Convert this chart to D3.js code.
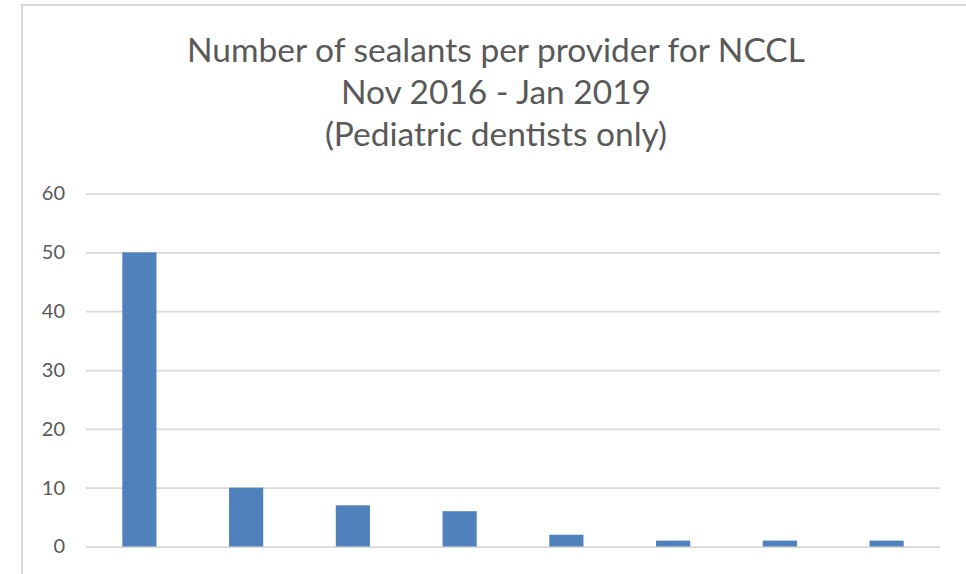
<!DOCTYPE html>
<html>
<head>
<meta charset="utf-8">
<script src="https://cdn.jsdelivr.net/npm/d3@7"></script>
<style>
  body { margin: 0; background: #fff; }
  svg { display: block; font-family: Lato, "Open Sans", sans-serif; }
</style>
</head>
<body>
<div id="chart"></div>
<script>
// values
const providers = ["Provider 1", "Provider 2", "Provider 3", "Provider 4",
  "Provider 5", "Provider 6", "Provider 7", "Provider 8"]
const sealants = [50, 10, 7, 6, 2, 1, 1, 1]
const yTicks = [0, 10, 20, 30, 40, 50, 60]
const titleLines = ["Number of sealants per provider for NCCL", "Nov 2016 - Jan 2019", "(Pediatric dentists only)"]

const width = 966, height = 574
const margin = { top: 193.5, right: 26, bottom: 27.5, left: 86 }

const svg = d3.select("#chart")
  .append("svg")
  .attr("width", width)
  .attr("height", height)

// chart area border (right and bottom edges fall outside the picture)
svg.append("rect")
  .attr("x", 22)
  .attr("y", 5)
  .attr("width", 1000)
  .attr("height", 700)
  .attr("fill", "none")
  .attr("stroke", "#d9d9d9")
  .attr("stroke-width", 2)

// title
svg.append("text")
  .attr("text-anchor", "middle")
  .attr("fill", "#595959")
  .style("font-size", "33.5px")
  .selectAll("tspan")
  .data(titleLines)
  .join("tspan")
  .attr("x", 496)
  .attr("y", (d, i) => 62 + i * 42)
  .text(d => d)

const x = d3.scaleBand()
  .domain(providers)
  .range([margin.left, width - margin.right])
  .paddingInner(0.68)
  .paddingOuter(0.34)

const y = d3.scaleLinear()
  .domain([0, 60])
  .range([height - margin.bottom, margin.top])

const yAxis = svg.append("g")
  .attr("transform", `translate(${margin.left},0)`)
  .call(d3.axisLeft(y)
    .tickValues(yTicks)
    .tickSize(-(width - margin.left - margin.right))
    .tickPadding(21))

yAxis.select(".domain").remove()
yAxis.selectAll(".tick line")
  .attr("stroke", "#d9d9d9")
  .attr("stroke-width", 1.75)
yAxis.selectAll(".tick text")
  .attr("fill", "#595959")
  .style("font-family", "Lato, 'Open Sans', sans-serif")
  .style("font-size", "20px")

svg.append("g")
  .selectAll("rect")
  .data(sealants)
  .join("rect")
  .attr("x", (d, i) => x(providers[i]))
  .attr("y", d => y(d))
  .attr("width", x.bandwidth())
  .attr("height", d => y(0) - y(d))
  .attr("fill", "#4f81bd")
</script>
</body>
</html>
